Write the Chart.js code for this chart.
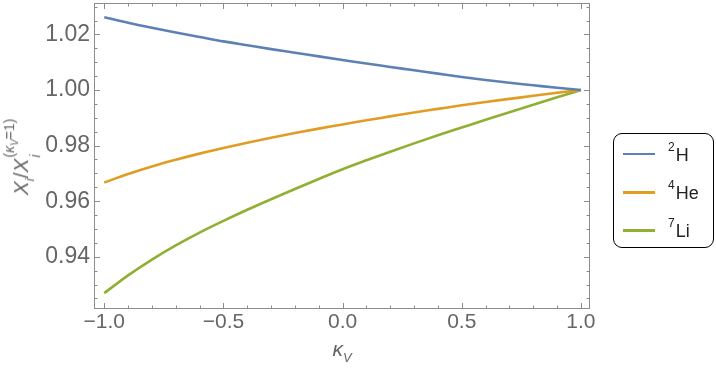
<!DOCTYPE html>
<html>
<head>
<meta charset="utf-8">
<script src="https://cdn.jsdelivr.net/npm/chart.js@4/dist/chart.umd.min.js"></script>
<style>
  body { margin: 0; background: #fff; }
  #wrap { position: relative; width: 716px; height: 386px; font-family: "Liberation Sans", Arial, sans-serif; }
  #chart { position: absolute; left: 0; top: 0; }
  .ytitle { position: absolute; left: 23px; top: 157px; transform: translate(-50%, -50%) rotate(-90deg);
            white-space: nowrap; color: #666; font-size: 21px; }
  .xtitle { position: absolute; left: 342px; top: 351px; transform: translate(-50%, -50%);
            white-space: nowrap; color: #666; font-size: 21px; }
  .stack { display: inline-flex; flex-direction: column; vertical-align: middle; line-height: 1; font-size: 14px; margin-left: 1px; }
  .stack .up { position: relative; top: -5px; }
  .stack .dn { position: relative; top: 3px; }
  .ytitle sub, .xtitle sub { font-size: 13px; }
  #legend { position: absolute; left: 613px; top: 133px; width: 99px; height: 113px;
            border: 1.5px solid #000; border-radius: 9px; }
  .item { position: absolute; left: 0; height: 24px; display: flex; align-items: center; color: #222; font-size: 18px; }
  .swatch { display: inline-block; width: 32px; height: 2.5px; margin-left: 9px; margin-right: 13px; }
  .item sup { font-size: 12px; position: relative; top: -3px; margin-right: 1px; }
</style>
</head>
<body>
<div id="wrap">
  <canvas id="chart" width="716" height="386"></canvas>
  <div class="ytitle"><i>X</i><sub><i>i</i></sub>/<i>X</i><span class="stack"><span class="up">(<i>κ</i><sub style="font-size:10px"><i>V</i></sub>=1)</span><span class="dn"><i>i</i></span></span></div>
  <div class="xtitle"><i>κ</i><sub><i>V</i></sub></div>
  <div id="legend"></div>
</div>
<script>
// kappa_V grid and X_i / X_i(kappa_V = 1)
const kappa = [-1.0, -0.9, -0.8, -0.7, -0.6, -0.5, -0.4, -0.3, -0.2, -0.1, 0.0,
               0.1, 0.2, 0.3, 0.4, 0.5, 0.6, 0.7, 0.8, 0.9, 1.0];
const h2  = [1.0262, 1.0242, 1.0224, 1.0207, 1.0191, 1.0175, 1.0161, 1.0147, 1.0134, 1.0121, 1.0108,
             1.0095, 1.0083, 1.0071, 1.0059, 1.0047, 1.0036, 1.0026, 1.0017, 1.0008, 1.0000];
const he4 = [0.9667, 0.9698, 0.9725, 0.9749, 0.9771, 0.9791, 0.9810, 0.9828, 0.9845, 0.9861, 0.9876,
             0.9891, 0.9905, 0.9919, 0.9932, 0.9945, 0.9957, 0.9968, 0.9979, 0.9990, 1.0000];
const li7 = [0.9269, 0.9333, 0.9390, 0.9441, 0.9487, 0.9529, 0.9569, 0.9607, 0.9644, 0.9680, 0.9715,
             0.9747, 0.9778, 0.9808, 0.9837, 0.9865, 0.9893, 0.9920, 0.9947, 0.9974, 1.0000];

const seriesMass   = ['2', '4', '7'];
const seriesSymbol = ['H', 'He', 'Li'];
const seriesColor  = ['#5E81B5', '#E19C24', '#8FB032'];
const seriesData   = [h2, he4, li7];

const xMajor = [-1.0, -0.5, 0.0, 0.5, 1.0];
const yMajor = [0.94, 0.96, 0.98, 1.00, 1.02];

const isMajor = (v, list) => list.some(m => Math.abs(v - m) < 1e-6);
const fmt = (v, d) => (v < 0 ? '\u2212' : '') + Math.abs(v).toFixed(d);

// inward Mathematica-style frame ticks
const frameTicks = {
  id: 'frameTicks',
  afterDraw(chart) {
    const { ctx, chartArea: { left, right, top, bottom }, scales: { x, y } } = chart;
    ctx.save();
    ctx.strokeStyle = '#8c8c8c';
    ctx.lineWidth = 1;
    ctx.strokeRect(left + 0.5, top + 0.5, right - left - 1, bottom - top - 1);
    ctx.beginPath();
    x.ticks.forEach(t => {
      const px = Math.round(x.getPixelForValue(t.value)) + 0.5;
      const len = isMajor(t.value, xMajor) ? 6 : 3.5;
      ctx.moveTo(px, bottom); ctx.lineTo(px, bottom - len);
      ctx.moveTo(px, top); ctx.lineTo(px, top + len);
    });
    y.ticks.forEach(t => {
      const py = Math.round(y.getPixelForValue(t.value)) + 0.5;
      const len = isMajor(t.value, yMajor) ? 6 : 3.5;
      ctx.moveTo(left, py); ctx.lineTo(left + len, py);
      ctx.moveTo(right, py); ctx.lineTo(right - len, py);
    });
    ctx.stroke();
    ctx.restore();
  }
};

const datasets = seriesData.map((vals, i) => ({
  label: seriesMass[i] + seriesSymbol[i],
  data: kappa.map((k, j) => ({ x: k, y: vals[j] })),
  borderColor: seriesColor[i],
  borderWidth: 2.6,
  pointRadius: 0,
  cubicInterpolationMode: 'monotone',
  fill: false
}));

const chart = new Chart(document.getElementById('chart').getContext('2d'), {
  type: 'line',
  data: { datasets },
  options: {
    responsive: false,
    animation: false,
    layout: { padding: { top: 3, right: 126, left: 0, bottom: 0 } },
    plugins: { legend: { display: false }, tooltip: { enabled: false } },
    scales: {
      x: {
        type: 'linear',
        min: -1.043, max: 1.038,
        grid: { display: true, drawOnChartArea: false, drawTicks: false, color: 'transparent' },
        border: { display: false },
        ticks: {
          stepSize: 0.1, autoSkip: false, maxRotation: 0, includeBounds: false, padding: 1,
          color: '#666', font: { family: '"Liberation Sans", Arial, sans-serif', size: 21 },
          callback: v => isMajor(v, xMajor) ? fmt(v, 1) : ''
        },
        afterFit: s => { s.height = 77; s.paddingLeft = 0; s.paddingRight = 0; }
      },
      y: {
        min: 0.9212, max: 1.0313,
        grid: { display: true, drawOnChartArea: false, drawTicks: false, color: 'transparent' },
        border: { display: false },
        ticks: {
          stepSize: 0.005, autoSkip: false, includeBounds: false, padding: 4,
          color: '#666', font: { family: '"Liberation Sans", Arial, sans-serif', size: 23 },
          callback: v => isMajor(v, yMajor) ? fmt(v, 2) : ''
        },
        afterFit: s => { s.width = 94; s.paddingTop = 0; s.paddingBottom = 0; }
      }
    }
  },
  plugins: [frameTicks]
});

// legend with superscript mass numbers
const legend = document.getElementById('legend');
chart.data.datasets.forEach((ds, i) => {
  const item = document.createElement('div');
  item.className = 'item';
  item.style.top = (8 + 38.3 * i) + 'px';
  item.innerHTML = '<span class="swatch" style="background:' + ds.borderColor + '"></span>' +
                   '<span><sup>' + seriesMass[i] + '</sup>' + seriesSymbol[i] + '</span>';
  legend.appendChild(item);
});
</script>
</body>
</html>
